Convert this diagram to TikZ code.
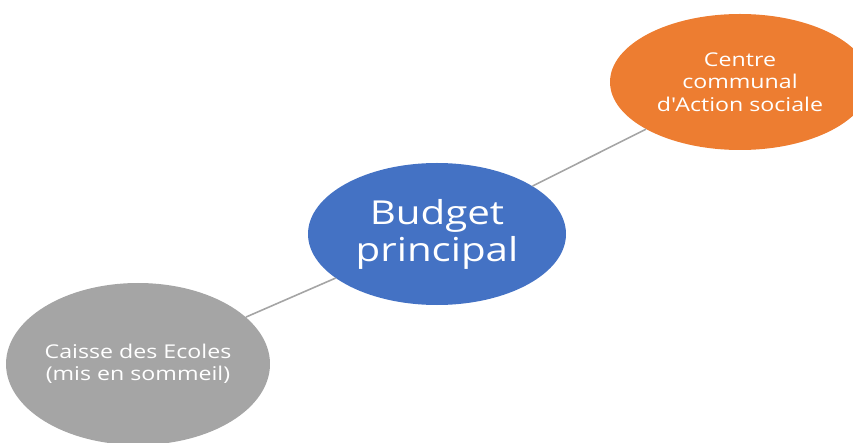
\documentclass[tikz,border=0pt]{standalone}
\usepackage{fontspec}
\setmainfont{Open Sans}[FakeStretch=1.22]
\usetikzlibrary{shapes.geometric}

\definecolor{budgetblue}{HTML}{4472C4}
\definecolor{ccasorange}{HTML}{ED7D31}
\definecolor{caissegray}{HTML}{A5A5A5}

\begin{document}
\begin{tikzpicture}[
    x=1pt, y=-1pt,
    every node/.style={text=white, align=center},
    bubble/.style={ellipse, inner sep=0pt, draw=none},
    main bubble/.style={bubble, fill=budgetblue, minimum width=258pt, minimum height=142pt,
      font=\fontsize{33}{37}\selectfont},
    side bubble/.style={bubble, font=\fontsize{19}{22.5}\selectfont},
    link/.style={draw=caissegray, line width=1.6pt}
  ]
    \useasboundingbox (0,0) rectangle (853,443);

    % central budget and its two satellites
    \node[main bubble] (budget) at (437,234) {Budget\\principal};
    \node[side bubble, fill=ccasorange, minimum width=260pt, minimum height=136pt] (ccas) at (740,82)
      {Centre\\communal\\d\textquotesingle Action sociale};
    \node[side bubble, fill=caissegray, minimum width=258pt, minimum height=162pt] (caisse) at (138,364)
      {Caisse des Ecoles\\(mis en sommeil)};

    \draw[link] (caisse) -- (budget);
    \draw[link] (budget) -- (ccas);
  \end{tikzpicture}
\end{document}
